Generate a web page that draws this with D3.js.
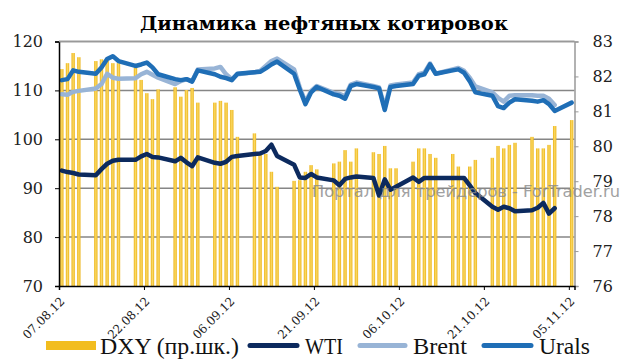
<!DOCTYPE html>
<html>
<head>
<meta charset="utf-8">
<script src="https://cdn.jsdelivr.net/npm/d3@7"></script>
<style>
  body { margin: 0; background: #fff; }
  svg { display: block; }
</style>
</head>
<body>
<div id="chart"></div>
<script>
(function(){

  // weekday dates (dd.mm.yy)
  const dates = [
    "07.08.12","08.08.12","09.08.12","10.08.12","13.08.12","14.08.12","15.08.12","16.08.12","17.08.12",
    "20.08.12","21.08.12","22.08.12","23.08.12","24.08.12","27.08.12","28.08.12","29.08.12","30.08.12","31.08.12",
    "03.09.12","04.09.12","05.09.12","06.09.12","07.09.12","10.09.12","11.09.12","12.09.12","13.09.12","14.09.12",
    "17.09.12","18.09.12","19.09.12","20.09.12","21.09.12","24.09.12","25.09.12","26.09.12","27.09.12","28.09.12",
    "01.10.12","02.10.12","03.10.12","04.10.12","05.10.12","08.10.12","09.10.12","10.10.12","11.10.12","12.10.12",
    "15.10.12","16.10.12","17.10.12","18.10.12","19.10.12","22.10.12","23.10.12","24.10.12","25.10.12","26.10.12",
    "29.10.12","30.10.12","31.10.12","01.11.12","02.11.12","05.11.12"
  ];

  // DXY, right scale
  const dxy = [
    82.21, 82.38, 82.67, 82.55, 82.44, 82.49, 82.45, 82.38, 82.38,
    82.26, 81.90, 81.52, 81.35, 81.63, 81.69, 81.42, 81.61, 81.67, 81.25,
    81.25, 81.30, 81.25, 81.04, 80.27, 80.37, 79.78, 79.78, 79.27, 78.84,
    79.01, 79.03, 79.27, 79.46, 79.34, 79.51, 79.56, 79.89, 79.56, 79.94,
    79.83, 79.78, 80.01, 79.37, 79.37, 79.56, 79.94, 79.94, 79.78, 79.67,
    79.78, 79.42, 79.13, 79.42, 79.61, 79.67, 80.01, 79.94, 80.04, 80.10,
    80.27, 79.94, 79.94, 80.04, 80.58, 80.75
  ];

  const wti = [
    93.6, 93.3, 93.1, 92.8, 92.65, 93.9, 95.0, 95.6, 95.8,
    95.8, 96.5, 97.0, 96.4, 96.3, 95.5, 96.2, 95.3, 94.5, 96.3,
    95.2, 95.0, 95.4, 96.4, 96.6, 97.0, 97.1, 97.6, 98.9, 96.6,
    94.8, 92.2, 92.1, 92.9, 92.2, 91.6, 90.6, 91.9, 92.2, 92.4,
    92.1, 88.5, 91.8, 89.7, 90.3, 92.2, 91.3, 92.1, 92.1, 92.1,
    92.1, 92.1, 92.1, 90.6, 89.0, 86.2, 85.6, 86.2, 85.9, 85.3,
    85.5, 86.0, 87.0, 84.8, 85.9, null
  ];

  const brent = [
    109.2, 109.1, 109.7, 109.9, 110.4, 111.3, 113.4, 112.6, 112.4,
    112.5, 113.3, 113.8, 113.2, 112.6, 111.3, 111.9, 112.3, 111.9, 114.3,
    114.5, 114.8, 113.3, 112.3, 113.3, 113.7, 114.0, 115.0, 116.0, 116.5,
    114.3, 110.6, 107.6, 109.9, 110.9, 109.5, 109.3, 108.8, 111.2, 111.6,
    110.9, 110.6, 106.6, 111.0, 111.2, 111.6, 113.3, 113.6, 115.5, 113.4,
    114.3, 114.6, 114.0, 112.6, 110.8, 109.6, 108.5, 107.7, 108.9, 109.0,
    109.0, 108.9, 108.9, 108.3, 107.0, null
  ];

  const urals = [
    112.1, 112.3, 114.1, 113.8, 113.4, 114.7, 116.4, 117.0, 116.0,
    115.0, 115.3, 115.7, 114.7, 113.3, 112.3, 112.1, 112.3, 111.8, 114.1,
    113.3, 112.8, 112.5, 112.1, 113.4, 113.7, 113.8, 114.5, 115.3, 115.9,
    113.4, 110.2, 107.2, 109.6, 110.7, 109.2, 108.9, 108.3, 110.9, 111.3,
    110.7, 110.4, 106.0, 110.7, 110.9, 111.3, 113.0, 113.3, 115.3, 113.4,
    114.1, 114.3, 113.6, 111.9, 109.6, 108.9, 106.8, 106.4, 107.5, 108.2,
    107.9, 107.7, 108.0, 107.2, 105.8, 107.5
  ];

  const xTicks = ["07.08.12","22.08.12","06.09.12","21.09.12","06.10.12","21.10.12","05.11.12"];
  const leftTicks = [70, 80, 90, 100, 110, 120];
  const rightTicks = [76, 77, 78, 79, 80, 81, 82, 83];

  const w = 629, h = 361,
    left = 59, right = 574.5, top = 41.5, bottom = 286;

  const parse = d3.timeParse("%d.%m.%y");
  const fmt = d3.timeFormat("%d.%m.%y");

  const rows = dates.map((d, i) => ({
    date: parse(d), dxy: dxy[i], wti: wti[i], brent: brent[i], urals: urals[i]
  }));

  const x = d3.scaleTime()
    .domain([parse("07.08.12"), parse("06.11.12")])
    .range([left, right]);
  const dayW = x(parse("08.08.12")) - x(parse("07.08.12"));
  const cx = d => x(d) + dayW / 2;

  const yL = d3.scaleLinear().domain([70, 120]).range([bottom, top]);
  const yR = d3.scaleLinear().domain([76, 83]).range([bottom, top]);

  const svg = d3.select("#chart")
    .append("svg")
    .attr("width", w)
    .attr("height", h)
    .style("font-family", "'DejaVu Serif', serif");

  // bar gradient
  const grad = svg.append("defs").append("linearGradient")
    .attr("id", "barGrad").attr("x1", 0).attr("x2", 1).attr("y1", 0).attr("y2", 0);
  grad.append("stop").attr("offset", "0%").attr("stop-color", "#ecb419");
  grad.append("stop").attr("offset", "50%").attr("stop-color", "#fad862");
  grad.append("stop").attr("offset", "100%").attr("stop-color", "#ecb419");

  // TITLE
  svg.append("text")
    .attr("x", 324)
    .attr("y", 30)
    .attr("text-anchor", "middle")
    .attr("font-weight", "bold")
    .attr("font-size", 19)
    .attr("textLength", 368)
    .attr("lengthAdjust", "spacingAndGlyphs")
    .text("Динамика нефтяных котировок");

  // GRID
  svg.append("g")
    .selectAll("line")
    .data(leftTicks.filter(v => v > 70))
    .join("line")
    .attr("x1", left).attr("x2", right)
    .attr("y1", d => yL(d)).attr("y2", d => yL(d))
    .attr("stroke", "#868686")
    .attr("stroke-width", 1.5);

  // BARS
  const barW = 3.4;
  svg.append("g")
    .selectAll("rect")
    .data(rows)
    .join("rect")
    .attr("x", d => cx(d.date) - barW / 2)
    .attr("width", barW)
    .attr("y", d => yR(d.dxy))
    .attr("height", d => bottom - yR(d.dxy))
    .attr("fill", "url(#barGrad)");

  // LINES
  const series = [
    { key: "wti", color: "#0c2a5e" },
    { key: "brent", color: "#98b4d6" },
    { key: "urals", color: "#1f6eb6" }
  ];
  series.forEach(s => {
    const line = d3.line()
      .defined(d => d[s.key] != null)
      .x(d => cx(d.date))
      .y(d => yL(d[s.key]));
    svg.append("path")
      .datum(rows)
      .attr("d", line)
      .attr("fill", "none")
      .attr("stroke", s.color)
      .attr("stroke-width", 4.5)
      .attr("stroke-linejoin", "round")
      .attr("stroke-linecap", "round");
  });

  // AXES
  const leftAxis = d3.axisLeft(yL).tickValues(leftTicks).tickSize(4).tickPadding(12);
  const gL = svg.append("g")
    .attr("transform", "translate(" + left + ",0)")
    .call(leftAxis);
  gL.select(".domain").attr("stroke", "#000").attr("stroke-width", 1.5);
  gL.selectAll(".tick line").attr("stroke", "#000");
  gL.selectAll("text").attr("font-size", 16).attr("font-family", "'DejaVu Serif', serif").attr("fill", "#222");

  const rightAxis = d3.axisRight(yR).tickValues(rightTicks).tickFormat(d3.format("d")).tickSize(4).tickPadding(14);
  const gR = svg.append("g")
    .attr("transform", "translate(" + right + ",0)")
    .call(rightAxis);
  gR.select(".domain").attr("stroke", "#999").attr("stroke-width", 1.5);
  gR.selectAll(".tick line").attr("stroke", "#999");
  gR.selectAll("text").attr("font-size", 16).attr("font-family", "'DejaVu Serif', serif").attr("fill", "#222");

  // top border
  svg.append("line")
    .attr("x1", left).attr("x2", right)
    .attr("y1", top).attr("y2", top)
    .attr("stroke", "#999").attr("stroke-width", 1.5);

  const bottomAxis = d3.axisBottom(x)
    .tickValues(xTicks.map(parse))
    .tickFormat(fmt)
    .tickSize(4);
  const gB = svg.append("g")
    .attr("transform", "translate(0," + bottom + ")")
    .call(bottomAxis);
  gB.select(".domain").attr("stroke", "#000").attr("stroke-width", 1.5);
  gB.selectAll(".tick line").attr("stroke", "#000");
  gB.selectAll("text")
    .attr("font-size", 12)
    .attr("font-family", "'DejaVu Serif', serif")
    .attr("fill", "#222")
    .attr("text-anchor", "end")
    .attr("x", 0).attr("y", 0).attr("dy", 0)
    .attr("transform", "translate(6,16) rotate(-45)");

  // WATERMARK (runs past the right axis, as in the source image)
  svg.append("text")
    .attr("x", 312)
    .attr("y", 197)
    .attr("font-family", "'DejaVu Sans', sans-serif")
    .attr("font-size", 15)
    .attr("fill", "#8a8a8a")
    .attr("opacity", 0.8)
    .attr("textLength", 308)
    .attr("lengthAdjust", "spacingAndGlyphs")
    .text("Портал для трейдеров - ForTrader.ru");

  // LEGEND
  const legend = svg.append("g").attr("font-family", "'Liberation Serif', serif").attr("font-size", 23);
  const legItems = [
    { label: "DXY (пр.шк.)", type: "bar", color: "#f2bd1f", x0: 46, x1: 96, tx: 100, tw: 139 },
    { label: "WTI", type: "line", color: "#0c2a5e", x0: 250, x1: 297, tx: 305, tw: 38 },
    { label: "Brent", type: "line", color: "#98b4d6", x0: 360, x1: 405, tx: 413, tw: 54 },
    { label: "Urals", type: "line", color: "#1f6eb6", x0: 484, x1: 531, tx: 539, tw: 51 }
  ];
  legItems.forEach(it => {
    if (it.type === "bar") {
      legend.append("rect")
        .attr("x", it.x0).attr("y", 341)
        .attr("width", it.x1 - it.x0).attr("height", 9)
        .attr("fill", it.color);
    } else {
      legend.append("line")
        .attr("x1", it.x0).attr("x2", it.x1)
        .attr("y1", 345.5).attr("y2", 345.5)
        .attr("stroke", it.color)
        .attr("stroke-width", 5)
        .attr("stroke-linecap", "round");
    }
    legend.append("text")
      .attr("x", it.tx).attr("y", 354)
      .attr("fill", "#111")
      .attr("textLength", it.tw)
      .attr("lengthAdjust", "spacingAndGlyphs")
      .text(it.label);
  });

})()
</script>
</body>
</html>
